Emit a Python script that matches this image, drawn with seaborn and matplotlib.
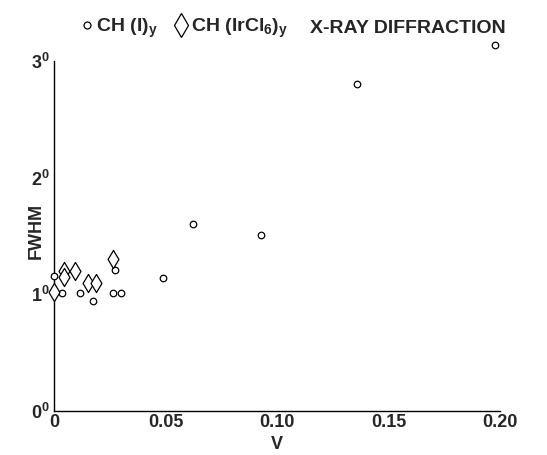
import pandas as pd
import matplotlib
matplotlib.use("Agg")
import matplotlib.pyplot as plt
import seaborn as sns
from matplotlib.lines import Line2D

# CH(I)y points (open circles)
iodine_v = [0.0, 0.0, 0.0037, 0.0116, 0.0173, 0.0266, 0.0300, 0.0273, 0.0487, 0.0624, 0.0930, 0.1358, 0.1980]
iodine_fwhm = [1.01, 1.16, 1.01, 1.01, 0.94, 1.01, 1.01, 1.21, 1.14, 1.60, 1.51, 2.80, 3.14]

# CH(IrCl6)y points (open diamonds)
ircl_v = [0.0, 0.0046, 0.0046, 0.0094, 0.0151, 0.0188, 0.0266]
ircl_fwhm = [1.02, 1.20, 1.15, 1.20, 1.10, 1.10, 1.30]

x_ticks = [0, 0.05, 0.10, 0.15, 0.20]
x_tick_labels = ["0", "0.05", "0.10", "0.15", "0.20"]
y_ticks = [0, 1, 2, 3]
y_tick_labels = ["0$^{0}$", "1$^{0}$", "2$^{0}$", "3$^{0}$"]

sns.set_style("white")
plt.rcParams['font.family'] = ['Liberation Sans', 'DejaVu Sans']
plt.rcParams['font.weight'] = 'bold'
plt.rcParams['mathtext.fontset'] = 'custom'
plt.rcParams['mathtext.rm'] = 'Liberation Sans:bold'
plt.rcParams['mathtext.bf'] = 'Liberation Sans:bold'
plt.rcParams['mathtext.it'] = 'Liberation Sans:bold'

df_i = pd.DataFrame({'v': iodine_v, 'fwhm': iodine_fwhm})
df_ir = pd.DataFrame({'v': ircl_v, 'fwhm': ircl_fwhm})

fig = plt.figure(figsize=(5.47, 4.55), dpi=100)
ax = fig.add_axes([0.099, 0.097, 0.815, 0.769])

sns.scatterplot(data=df_i, x='v', y='fwhm', ax=ax, marker='o', s=22,
                facecolor='white', edgecolor='black', linewidth=0.9,
                clip_on=False, zorder=3)
sns.scatterplot(data=df_ir, x='v', y='fwhm', ax=ax, marker='d', s=85,
                facecolor='white', edgecolor='black', linewidth=0.9,
                clip_on=False, zorder=3)

ax.set_xlim(0, 0.20)
ax.set_ylim(0, 3)
ax.set_xticks(x_ticks)
ax.set_xticklabels(x_tick_labels, fontsize=13, fontweight='bold')
ax.set_yticks(y_ticks)
ax.set_yticklabels(y_tick_labels, fontsize=13, fontweight='bold')
ax.tick_params(direction='in', length=7, width=1, color='black', pad=3)
ax.tick_params(axis='x', pad=2)

for side in ['top', 'right']:
    ax.spines[side].set_visible(False)
for side in ['left', 'bottom']:
    ax.spines[side].set_color('black')
    ax.spines[side].set_linewidth(1)

ax.set_xlabel("V", fontsize=13, fontweight='bold', labelpad=4)
ax.set_ylabel("FWHM", fontsize=13, fontweight='bold')
ax.yaxis.set_label_coords(-0.02, 0.515)

handles = [
    Line2D([], [], linestyle='none', marker='o', markersize=5,
           markerfacecolor='white', markeredgecolor='black', markeredgewidth=0.9),
    Line2D([], [], linestyle='none', marker='d', markersize=12,
           markerfacecolor='white', markeredgecolor='black', markeredgewidth=0.9),
]
labels = ["CH (I)$_{y}$", "CH (IrCl$_{6}$)$_{y}$"]
fig.legend(handles, labels, loc='center left', bbox_to_anchor=(0.13, 0.938),
           ncol=2, frameon=False, fontsize=14, handlelength=0.6,
           handletextpad=0.2, columnspacing=0.9, borderpad=0)
fig.text(0.567, 0.9275, "X-RAY DIFFRACTION", fontsize=14, fontweight='bold',
         ha='left', va='baseline')

fig.savefig("out.png", dpi=100)
plt.close(fig)
